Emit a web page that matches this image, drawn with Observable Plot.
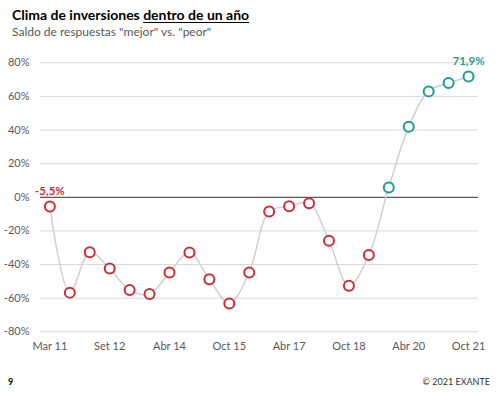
<!DOCTYPE html>
<html><head><meta charset="utf-8">
<script src="https://cdn.jsdelivr.net/npm/d3@7"></script>
<script src="https://cdn.jsdelivr.net/npm/@observablehq/plot@0.6"></script>
<style>
html,body{margin:0;padding:0;background:#fff;}
body{width:504px;height:396px;position:relative;font-family:Lato,"Open Sans",sans-serif;overflow:hidden;}
#title{position:absolute;left:12px;top:6px;font-size:14px;font-weight:bold;color:#000;white-space:nowrap;}
#title u{text-decoration-thickness:1px;text-underline-offset:2px;}
#sub{position:absolute;left:12px;top:24px;font-size:12px;color:#595959;white-space:nowrap;}
#chart{position:absolute;left:0;top:44px;}
#pg{position:absolute;left:8px;top:376px;font-size:9px;font-weight:bold;color:#000;}
#copy{position:absolute;right:14px;top:376px;font-size:9px;color:#333;}
</style></head><body>
<div id="title">Clima de inversiones <u>dentro de un año</u></div>
<div id="sub">Saldo de respuestas "mejor" vs. "peor"</div>
<div id="chart"></div>
<div id="pg">9</div>
<div id="copy">© 2021 EXANTE</div>
<script>
const values = [-5.5, -56.7, -32.7, -42.4, -55.2, -57.5, -44.7, -32.9, -48.7, -63.1, -44.7, -8.5, -5.3, -3.5, -25.8, -52.6, -34.3, 5.8, 41.9, 63.0, 68.0, 71.9];
const groups = ["peor","peor","peor","peor","peor","peor","peor","peor","peor","peor","peor","peor","peor","peor","peor","peor","peor","mejor","mejor","mejor","mejor","mejor"];
const tickIndex = [0, 3, 6, 9, 12, 15, 18, 21];
const tickLabels = ["Mar 11", "Set 12", "Abr 14", "Oct 15", "Abr 17", "Oct 18", "Abr 20", "Oct 21"];
const yTicks = [-80, -60, -40, -20, 0, 20, 40, 60, 80];
const labelIdx = [0, 21];
const labelText = ["-5,5%", "71,9%"];

const data = values.map((v, i) => ({i, v, g: groups[i]}));
const labels = labelIdx.map((k, j) => ({i: k, v: values[k], t: labelText[j], g: groups[k]}));
const colors = {peor: "#d42a34", mejor: "#1a9e8f"};

const chart = Plot.plot({
  width: 504, height: 320,
  marginLeft: 40, marginRight: 26, marginTop: 18.3, marginBottom: 32.7,
  style: {fontFamily: "Lato, 'Open Sans', sans-serif", fontSize: "11px", color: "#595959", background: "#fff"},
  x: {domain: [-0.47, 21.5], axis: null},
  y: {domain: [-80, 80], axis: null},
  marks: [
    Plot.ruleY(yTicks.filter(d => d !== 0), {stroke: "#d9d9d9", strokeWidth: 1}),
    Plot.ruleY([0], {stroke: "#595959", strokeWidth: 1.2}),
    Plot.axisY({ticks: yTicks, tickSize: 0, tickPadding: 11, label: null, tickFormat: d => d + "%", fill: "#595959", fontSize: 11}),
    Plot.axisX({ticks: tickIndex, tickSize: 0, tickPadding: 10, label: null, tickFormat: (d) => tickLabels[tickIndex.indexOf(d)], fill: "#595959", fontSize: 11}),
    Plot.line(data, {x: "i", y: "v", curve: "catmull-rom", stroke: "#d0d0d0", strokeWidth: 1.5}),
    Plot.dot(data, {x: "i", y: "v", r: 5, fill: "white", stroke: d => colors[d.g], strokeWidth: 2}),
    Plot.text(labels, {x: "i", y: "v", text: "t", dy: -15, fill: d => colors[d.g], fontWeight: "bold", fontSize: 11.5})
  ]
});
document.getElementById("chart").appendChild(chart);
</script>
</body></html>
